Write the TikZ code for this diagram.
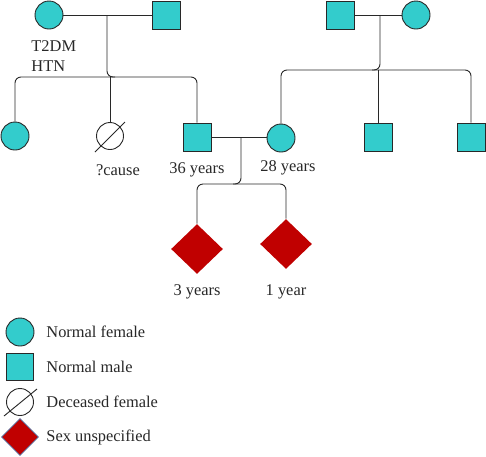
\documentclass[tikz,border=0pt]{standalone}
\usepackage{fontspec}
\setmainfont{Liberation Serif}
\usetikzlibrary{shapes.geometric}
\definecolor{teal1}{RGB}{51,204,204}
\definecolor{red1}{RGB}{192,0,0}
\definecolor{ln}{RGB}{40,40,40}
\definecolor{bord}{RGB}{80,110,160}
\begin{document}
\begin{tikzpicture}[x=1pt,y=-1pt,
  line width=0.9pt,
  fem/.style={circle, draw=ln, fill=teal1, minimum size=28pt, inner sep=0pt},
  mal/.style={rectangle, draw=ln, fill=teal1, minimum size=28pt, inner sep=0pt},
  dec/.style={circle, draw=ln, fill=white, minimum size=27pt, inner sep=0pt},
  unk/.style={diamond, fill=red1, minimum width=52pt, minimum height=50pt, inner sep=0pt},
  lbl/.style={font=\fontsize{16.4}{19}\selectfont, inner sep=0pt, text=ln},
  link/.style={draw=ln, rounded corners=6pt},
  ln/.style={draw=ln}]
\fill[white] (0,0) rectangle (486,456);
\useasboundingbox (0,0) rectangle (486,456);
% generation 1
\node[fem] (gf1) at (49,15) {};
\node[mal] (gm1) at (166,15) {};
\node[mal] (gm2) at (340,15) {};
\node[fem] (gf2) at (416,15) {};
\draw[ln] (gf1) -- (gm1);
\draw[ln] (gm2) -- (gf2);
\coordinate (mp1) at (107,15);
\coordinate (mp2) at (380,15);
\node[lbl, anchor=west] (t2) at (31,46) {T2DM};
\node[lbl, anchor=west] (htn) at (31,66) {HTN};
% generation 2
\node[fem] (c1) at (15,136) {};
\node[dec] (c2) at (110,136) {};
\draw[ln] ([shift={(-15,16)}]c2.center) -- ([shift={(15,-14)}]c2.center);
\node[mal] (c3) at (197,137) {};
\node[fem] (c4) at (281,138) {};
\node[mal] (c5) at (378,137) {};
\node[mal] (c6) at (471,137) {};
\coordinate (s1) at (0,77);
\coordinate (s2) at (0,70);
\draw[link] (c1.north) -- (c1.north |- s1) -- (c3.north |- s1) -- (c3.north);
\draw[ln] (c2.north) -- (c2.north |- s1);
\draw[link] (mp1) -- (mp1 |- s1) -- ([xshift=8pt]mp1 |- s1);
\draw[link] (c4.north) -- (c4.north |- s2) -- (c6.north |- s2) -- (c6.north);
\draw[ln] (c5.north) -- (c5.north |- s2);
\draw[link] (mp2) -- (mp2 |- s2) -- ([xshift=-8pt]mp2 |- s2);
\node[lbl] (cause) at (118,170) {?cause};
\node[lbl] (a36) at (197,170) {36 years};
\node[lbl] (a28) at (288,168) {28 years};
% generation 3
\draw[ln] (c3.east) -- (c3.east -| c4.west);
\coordinate (mp3) at (241,137);
\coordinate (s3) at (0,184);
\node[unk] (k1) at (197,249) {};
\node[unk] (k2) at (286,244) {};
\draw[link] (k1.north) -- (k1.north |- s3) -- (k2.north |- s3) -- (k2.north);
\draw[link] (mp3) -- (mp3 |- s3) -- ([xshift=-8pt]mp3 |- s3);
\node[lbl] (a3) at (197,292) {3 years};
\node[lbl] (a1) at (286,292) {1 year};
% legend
\node[fem] (lf) at (20,332) {};
\node[mal, minimum size=27pt] (lm) at (20,367) {};
\node[dec] (ld) at (20,402) {};
\draw[ln] ([shift={(-16,14)}]ld.center) -- ([shift={(17,-13)}]ld.center);
\node[unk, draw=bord, line width=0.7pt, minimum width=37pt, minimum height=37pt] (lu) at (20,437) {};
\node[lbl, anchor=west] (tf) at (46,332) {Normal female};
\node[lbl, anchor=west] (tm) at (46,367) {Normal male};
\node[lbl, anchor=west] (td) at (46,402) {Deceased female};
\node[lbl, anchor=west] (tu) at (46,437) {Sex unspecified};
\end{tikzpicture}
\end{document}
